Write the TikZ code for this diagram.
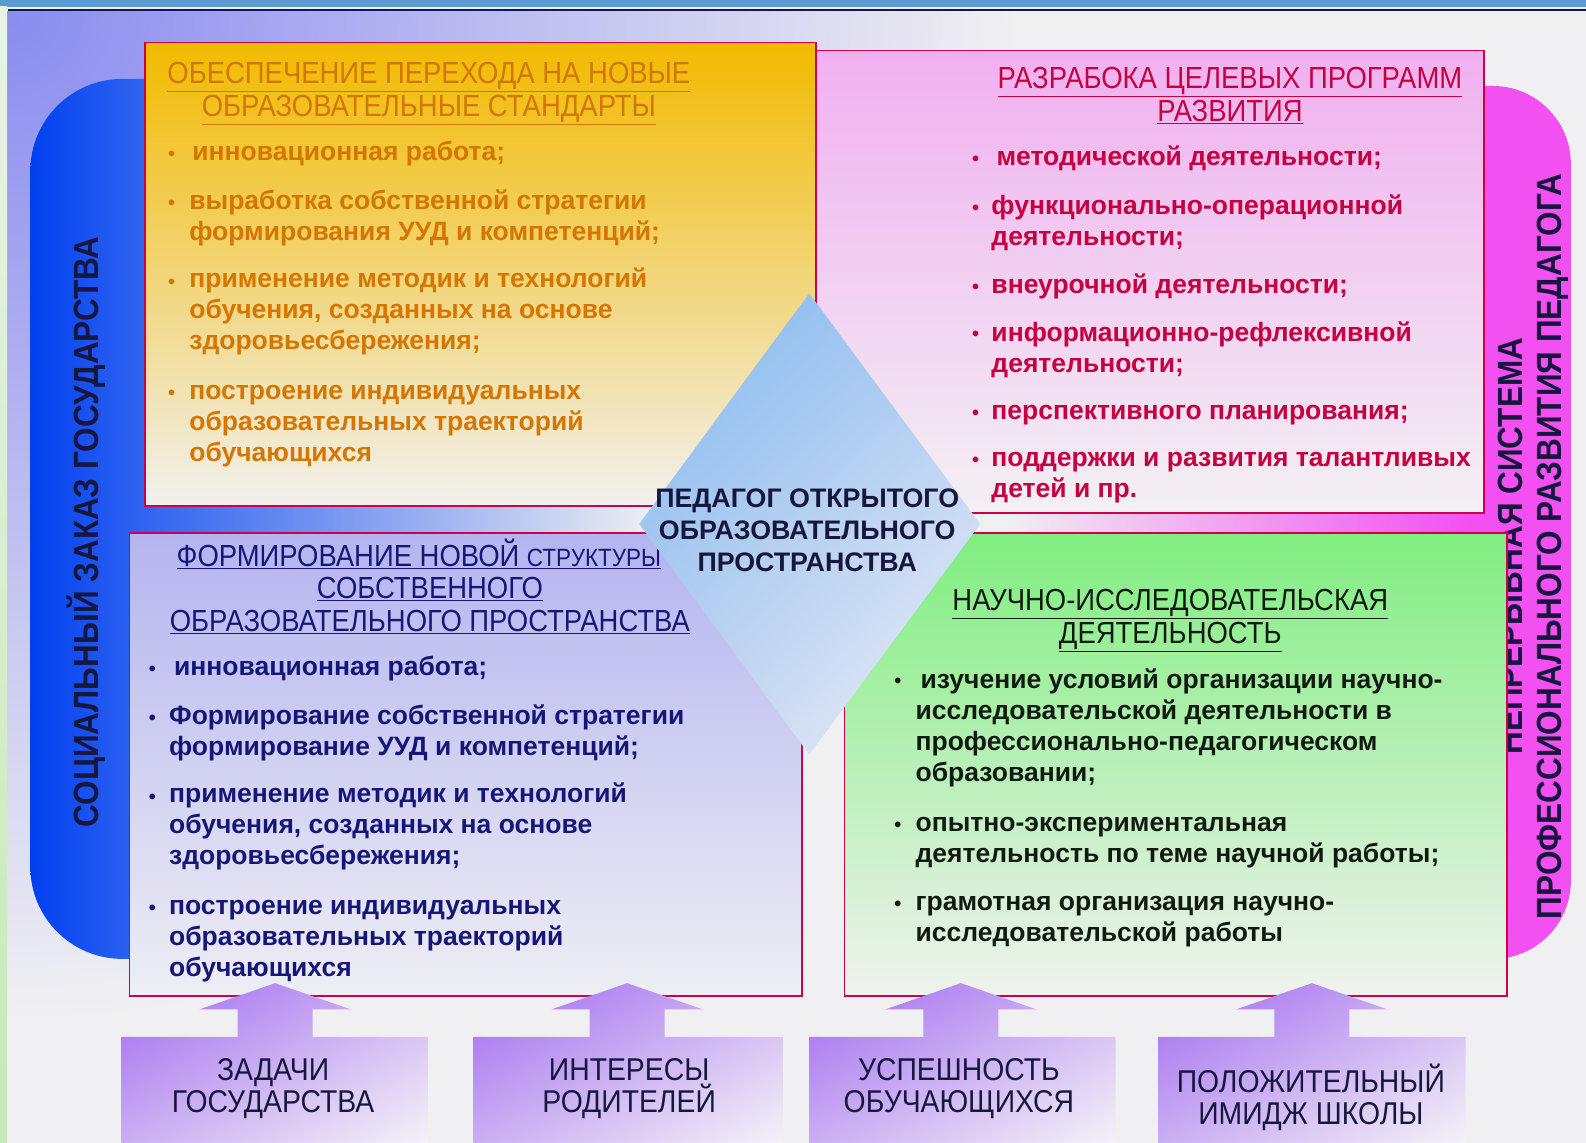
\documentclass[tikz,border=0pt]{standalone}
\usepackage{fontspec}
\setmainfont{Liberation Sans}
\newfontfamily\narrowfont[FakeStretch=0.9]{Liberation Sans}
\usetikzlibrary{shadings}
\definecolor{framered}{RGB}{205,0,75}
\definecolor{orangetxt}{RGB}{212,118,0}
\definecolor{pinktxt}{RGB}{198,0,64}
\definecolor{navytxt}{RGB}{22,22,120}
\definecolor{greentxt}{RGB}{16,26,16}
\definecolor{darktxt}{RGB}{22,22,62}
\definecolor{bgwhite}{RGB}{240,240,242}
\definecolor{bgblue}{RGB}{138,140,240}
\definecolor{topband}{RGB}{91,155,213}
\definecolor{navyline}{RGB}{20,20,90}
\definecolor{greentop}{RGB}{232,244,226}
\definecolor{greenbot}{RGB}{196,234,182}
\definecolor{barblue}{RGB}{0,64,240}
\definecolor{barmag}{RGB}{242,80,240}
\definecolor{pinktop}{RGB}{240,176,240}
\definecolor{pinkbot}{RGB}{243,240,243}
\definecolor{orangetop}{RGB}{242,186,0}
\definecolor{orangebot}{RGB}{242,240,238}
\definecolor{lavtop}{RGB}{180,180,240}
\definecolor{lavbot}{RGB}{238,238,244}
\definecolor{lime}{RGB}{128,238,128}
\definecolor{limebot}{RGB}{240,242,238}
\definecolor{diaUL}{RGB}{128,184,240}
\definecolor{diaUR}{RGB}{172,202,240}
\definecolor{diaLL}{RGB}{190,210,240}
\definecolor{diaLR}{RGB}{240,240,248}
\definecolor{goalUL}{RGB}{160,105,240}
\definecolor{goalUR}{RGB}{205,178,242}
\definecolor{goalLL}{RGB}{202,174,242}
\definecolor{goalLR}{RGB}{244,242,248}
\pgfdeclarehorizontalshading{bluebar}{100bp}{color(0bp)=(barblue); color(25bp)=(barblue); color(33bp)=(barblue!82!bgwhite); color(75bp)=(bgwhite); color(100bp)=(bgwhite)}
\pgfdeclarehorizontalshading{magbar}{100bp}{color(0bp)=(bgwhite); color(25bp)=(bgwhite); color(66bp)=(barmag); color(100bp)=(barmag)}
% multi-line nodes sit on the baseline of their LAST line
\tikzset{frame/.style={draw=framered, line width=1.8pt},
  bul/.style={anchor=base west, inner sep=0pt, font=\bfseries\fontsize{20}{24}\selectfont},
  item/.style={anchor=base west, inner sep=0pt, align=left, font=\bfseries\fontsize{26.5}{31}\selectfont},
  head/.style={anchor=base, inner sep=0pt, align=center, font=\narrowfont\fontsize{30.5}{32.5}\selectfont},
  side/.style={inner sep=0pt, rotate=90, align=center, text=darktxt, font=\narrowfont\bfseries\fontsize{35}{38.5}\selectfont},
  centre/.style={anchor=base, inner sep=0pt, align=center, text=darktxt, font=\bfseries\fontsize{26.8}{32}\selectfont},
  goal/.style={anchor=base, inner sep=0pt, align=center, text=darktxt, font=\narrowfont\fontsize{31.5}{32.5}\selectfont},
  goalfill/.style={upper left=goalUL, upper right=goalUR, lower left=goalLL, lower right=goalLR}}

\begin{document}
\begin{tikzpicture}[x=1.0115pt, y=-1.0115pt]
\useasboundingbox (0,0) rectangle (1568,1130);
% page background
\fill[bgwhite] (0,0) rectangle (1568,1130);
\begin{scope}
\clip (7,11) rectangle (1568,1130);
\shade[inner color=bgblue, outer color=bgwhite] (7,11) circle (1010pt);
\end{scope}
\fill[topband] (0,0) rectangle (1568,6.5);
\fill[navyline] (8,8.5) rectangle (1568,11);
\shade[top color=greentop, bottom color=greenbot] (0,6.5) rectangle (7,1130);

% side bars
\shade[shading=bluebar] (650,78) [rounded corners=92pt] -- (30,78) -- (30,948) -- (650,948) [sharp corners] -- cycle;
\shade[shading=magbar] (990,85) [rounded corners=78pt] -- (1553,85) -- (1553,948) -- (990,948) [sharp corners] -- cycle;
\node[side] (soc) at (85,526) {СОЦИАЛЬНЫЙ ЗАКАЗ ГОСУДАРСТВА};
\node[side] (nep) at (1516,540) {НЕПРЕРЫВНАЯ СИСТЕМА\\ПРОФЕССИОНАЛЬНОГО РАЗВИТИЯ ПЕДАГОГА};

% four boxes
\shade[frame, top color=pinktop, bottom color=pinkbot] (807,50) rectangle (1467,507);
\shade[frame, top color=orangetop, bottom color=orangebot] (143,42) rectangle (807,500);
\shade[frame, top color=lavtop, bottom color=lavbot] (128,527) rectangle (793,985);
\shade[frame, top color=lime, bottom color=limebot] (835,527) rectangle (1490,985);

% orange box
\node[head, text=orangetxt] (otitle) at (424,115) {\underline{ОБЕСПЕЧЕНИЕ ПЕРЕХОДА НА НОВЫЕ}\\\underline{ОБРАЗОВАТЕЛЬНЫЕ СТАНДАРТЫ}};
\foreach \y in {159,207,285,395}
  \node[bul, text=orangetxt] (ob\y) at (166,\y) {•};
\node[item, text=orangetxt] (o1) at (190,159) {инновационная работа;};
\node[item, text=orangetxt] (o2) at (187,238) {выработка собственной стратегии\\формирования УУД и компетенций;};
\node[item, text=orangetxt] (o3) at (187,346) {применение методик и технологий\\обучения, созданных на основе\\здоровьесбережения;};
\node[item, text=orangetxt] (o4) at (187,456) {построение индивидуальных\\образовательных траекторий\\обучающихся};

% pink box
\node[head, text=pinktxt] (ptitle) at (1216,120) {\underline{РАЗРАБОКА ЦЕЛЕВЫХ ПРОГРАММ}\\\underline{РАЗВИТИЯ}};
\foreach \y in {164,212,290,337,415,461}
  \node[bul, text=pinktxt] (pb\y) at (961,\y) {•};
\node[item, text=pinktxt] (p1) at (985,164) {методической деятельности;};
\node[item, text=pinktxt] (p2) at (980,243) {функционально-операционной\\деятельности;};
\node[item, text=pinktxt] (p3) at (980,290) {внеурочной деятельности;};
\node[item, text=pinktxt] (p4) at (980,368) {информационно-рефлексивной\\деятельности;};
\node[item, text=pinktxt] (p5) at (980,415) {перспективного планирования;};
\node[item, text=pinktxt] (p6) at (980,492) {поддержки и развития талантливых\\детей и пр.};

% lavender box
\node[head, text=navytxt] (vtitle) at (425,624) {\underline{ФОРМИРОВАНИЕ НОВОЙ {\fontsize{25}{26}\selectfont СТРУКТУРЫ}}\hspace*{22pt}\\\underline{СОБСТВЕННОГО}\\\underline{ОБРАЗОВАТЕЛЬНОГО ПРОСТРАНСТВА}};
\foreach \y in {668,716,794,904}
  \node[bul, text=navytxt] (vb\y) at (147,\y) {•};
\node[item, text=navytxt] (v1) at (172,668) {инновационная работа;};
\node[item, text=navytxt] (v2) at (167,747) {Формирование собственной стратегии\\формирование УУД и компетенций;};
\node[item, text=navytxt] (v3) at (167,855) {применение методик и технологий\\обучения, созданных на основе\\здоровьесбережения;};
\node[item, text=navytxt] (v4) at (167,965) {построение индивидуальных\\образовательных траекторий\\обучающихся};

% green box
\node[head, text=greentxt] (gtitle) at (1157,636) {\underline{НАУЧНО-ИССЛЕДОВАТЕЛЬСКАЯ}\\\underline{ДЕЯТЕЛЬНОСТЬ}};
\foreach \y in {680,822,900}
  \node[bul, text=greentxt] (gb\y) at (884,\y) {•};
\node[item, text=greentxt] (g1) at (905,773) {\hspace{5pt}изучение условий организации научно-\\исследовательской деятельности в\\профессионально-педагогическом\\образовании;};
\node[item, text=greentxt] (g2) at (905,853) {опытно-экспериментальная\\деятельность по теме научной работы;};
\node[item, text=greentxt] (g3) at (905,931) {грамотная организация научно-\\исследовательской работы};

% centre diamond
\shade[upper left=diaUL, upper right=diaUR, lower left=diaLL, lower right=diaLR]
  (800,290) -- (969,518) -- (800,746) -- (632,518) -- cycle;
\node[centre] (ped) at (798,565) {ПЕДАГОГ ОТКРЫТОГО\\ОБРАЗОВАТЕЛЬНОГО\\ПРОСТРАНСТВА};

% bottom arrows
\foreach \c/\l/\r in {272/120/423, 620/468/774, 950/800/1103, 1297/1145/1449}
  \shade[goalfill] (\l,1130) -- (\l,1025) -- ({\c-37},1025) -- ({\c-37},998) -- ({\c-75},998) -- (\c,972)
    -- ({\c+75},998) -- ({\c+37},998) -- ({\c+37},1025) -- (\r,1025) -- (\r,1130) -- cycle;
\node[goal] (zad) at (270,1100) {ЗАДАЧИ\\ГОСУДАРСТВА};
\node[goal] (int) at (622,1100) {ИНТЕРЕСЫ\\РОДИТЕЛЕЙ};
\node[goal] (usp) at (948,1100) {УСПЕШНОСТЬ\\ОБУЧАЮЩИХСЯ};
\node[goal] (pol) at (1296,1112) {ПОЛОЖИТЕЛЬНЫЙ\\ИМИДЖ ШКОЛЫ};
\end{tikzpicture}
\end{document}
